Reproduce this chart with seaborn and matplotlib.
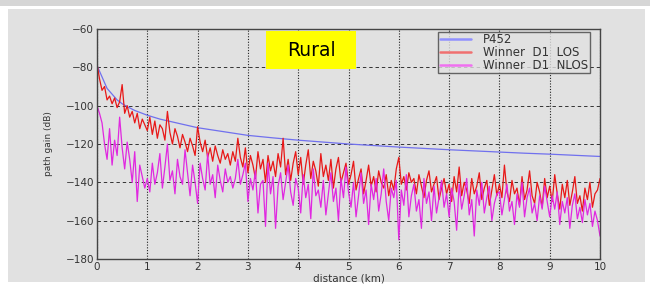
"""Rural path gain: P452 vs Winner D1 LOS / NLOS."""

import matplotlib
matplotlib.use("Agg")
import matplotlib.pyplot as plt
import pandas as pd
import seaborn as sns
from matplotlib.patches import Rectangle


# P452 curve
P452_KM = [0.0, 0.05, 0.1, 0.15, 0.2, 0.3, 0.4, 0.5, 0.6, 0.75, 1.0, 1.25, 1.5,
           2.0, 2.5, 3.0, 3.5, 4.0, 4.5, 5.0, 5.5, 6.0, 6.5, 7.0, 7.5, 8.0,
           8.5, 9.0, 9.5, 10.0]
P452_DB = [-79, -82, -85, -88, -91, -94, -97, -99, -100.5, -102.5, -105, -107,
           -108.5, -111.5, -113.5, -115.5, -116.8, -118, -119, -120, -120.8,
           -121.6, -122.3, -123, -123.6, -124.2, -124.8, -125.3, -125.9, -126.5]

# Winner D1 curves, one value every 0.05 km
WINNER_KM = [i * 0.05 for i in range(201)]
LOS_DB = [
    -78, -86, -92, -90, -97, -95, -99, -96, -101, -98, -89, -104, -100, -106, -103, -109, -104, -112, -107, -110,
    -113, -106, -115, -108, -117, -110, -112, -118, -103, -114, -120, -112, -116, -122, -115, -119, -124, -117, -121, -126,
    -111, -119, -124, -118, -127, -122, -129, -121, -126, -130, -123, -128, -125, -131, -124, -129, -117, -127, -132, -122,
    -135, -126, -131, -138, -124, -133, -128, -140, -126, -134, -129, -137, -125, -132, -117, -136, -128, -139, -130, -124,
    -136, -127, -141, -131, -123, -138, -129, -134, -142, -125, -137, -131, -139, -128, -143, -133, -127, -140, -135, -130,
    -141, -136, -129, -144, -138, -133, -146, -139, -131, -142, -137, -145, -134, -140, -143, -136, -147, -139, -144, -133,
    -127, -141, -137, -144, -135, -140, -138, -146, -136, -142, -148, -139, -134, -145, -141, -137, -149, -143, -138, -146,
    -141, -150, -137, -145, -132, -147, -140, -144, -151, -138, -146, -142, -135, -149, -143, -139, -152, -144, -136, -147,
    -141, -148, -131, -145, -150, -139, -146, -143, -152, -137, -149, -144, -134, -147, -151, -140, -145, -153, -138, -148,
    -142, -150, -136, -146, -154, -141, -148, -139, -152, -145, -137, -151, -147, -155, -143, -149, -140, -153, -146, -144,
    -138,
]
NLOS_DB = [
    -100, -104, -109, -120, -128, -112, -131, -118, -126, -106, -122, -133, -119, -128, -140, -124, -150, -131, -137, -143,
    -138, -145, -130, -141, -135, -125, -143, -132, -120, -139, -134, -146, -128, -137, -141, -123, -135, -147, -131, -140,
    -151, -130, -138, -144, -125, -141, -136, -148, -131, -139, -145, -133, -140, -137, -143, -138, -128, -141, -136, -130,
    -150, -138, -144, -134, -156, -141, -139, -163, -130, -146, -137, -164, -142, -135, -149, -140, -131, -145, -152, -138,
    -143, -156, -136, -148, -141, -159, -133, -147, -144, -153, -139, -157, -146, -135, -150, -143, -160, -138, -148, -132,
    -145, -153, -140, -158, -147, -135, -151, -144, -162, -141, -149, -138, -155, -146, -133, -150, -160, -143, -148, -139,
    -170, -144, -152, -136, -158, -147, -141, -155, -149, -164, -138, -151, -145, -160, -142, -156, -148, -139, -153, -146,
    -158, -143, -150, -165, -141, -154, -147, -138, -157, -149, -168, -144, -152, -140, -156, -148, -142, -160, -151, -146,
    -145, -157, -149, -141, -155, -150, -162, -146, -153, -140, -158, -148, -143, -156, -151, -160, -147, -154, -142, -150,
    -158, -147, -154, -145, -162, -150, -156, -148, -164, -152, -146, -159, -153, -161, -149, -157, -151, -163, -155, -160,
    -168,
]

SERIES = ["P452", "Winner D1 LOS", "Winner D1 NLOS"]
LEGEND_TEXT = ["P452", "Winner  D1  LOS", "Winner  D1  NLOS"]
COLORS = ["#7070ee", "#e81818", "#e028e0"]
BG = "#e1e1e1"


def build_frame() -> pd.DataFrame:
    parts = [
        pd.DataFrame({"km": P452_KM, "db": P452_DB, "model": SERIES[0]}),
        pd.DataFrame({"km": WINNER_KM, "db": LOS_DB, "model": SERIES[1]}),
        pd.DataFrame({"km": WINNER_KM, "db": NLOS_DB, "model": SERIES[2]}),
    ]
    return pd.concat(parts, ignore_index=True)


def main() -> None:
    data = build_frame()
    sns.set_style("white")
    plt.rcParams["font.family"] = ["DejaVu Sans"]

    fig = plt.figure(figsize=(6.5, 2.87), dpi=100, facecolor="white")
    # grey panel with thin white border, light strip on top
    fig.patches.append(Rectangle((8 / 650, 5 / 287), 637 / 650, 273 / 287,
                                 transform=fig.transFigure, facecolor=BG,
                                 edgecolor="none", zorder=-10))
    fig.patches.append(Rectangle((0, 281 / 287), 1, 6 / 287,
                                 transform=fig.transFigure, facecolor="#d6d6d6",
                                 edgecolor="none", zorder=-10))

    ax = fig.add_axes([97 / 650, 28 / 287, 503 / 650, 230 / 287])
    ax.set_facecolor(BG)

    for name, color in zip(SERIES, COLORS):
        sns.lineplot(data=data[data["model"] == name], x="km", y="db", ax=ax,
                     color=color, lw=0.9, estimator=None, label=name,
                     legend=False)

    ax.set_xlim(0, 10)
    ax.set_ylim(-180, -60)
    ax.set_xticks(range(0, 11))
    ax.set_yticks(range(-180, -59, 20))
    ax.xaxis.grid(True, linestyle=(0, (1, 1.5)), color="#222222", lw=0.8)
    ax.yaxis.grid(True, linestyle=(0, (3.5, 3)), color="#333333", lw=0.7)
    ax.set_axisbelow(True)
    ax.tick_params(direction="in", length=3, labelsize=7.5, colors="#333333",
                   pad=2)
    for spine in ax.spines.values():
        spine.set_color("#444444")
        spine.set_linewidth(1.0)

    ax.set_xlabel("distance (km)", fontsize=7.5, color="#333333", labelpad=1)
    ax.set_ylabel("path gain (dB)", fontsize=6.5, color="#333333", labelpad=9)

    handles = ax.lines[:3]
    leg = ax.legend(handles, LEGEND_TEXT, loc="upper right", fontsize=8.5,
                    frameon=True, fancybox=False, borderpad=0.1,
                    handlelength=2.7, handletextpad=1.0, labelspacing=0.0,
                    borderaxespad=0.25, bbox_to_anchor=(0.985, 1.0))
    leg.get_frame().set_facecolor(BG)
    leg.get_frame().set_edgecolor("#444444")
    leg.get_frame().set_linewidth(1.0)
    for line, color in zip(leg.get_lines(), ["#9090ff", "#f07070", "#f070f0"]):
        line.set_color(color)
        line.set_linewidth(1.8)
    for text in leg.get_texts():
        text.set_color("#333333")

    # yellow "Rural" tag
    ax.add_patch(Rectangle((0.336, 0.826), 0.179, 0.165,
                           transform=ax.transAxes, facecolor="#ffff00",
                           edgecolor="none", zorder=5))
    ax.text(0.4255, 0.905, "Rural", transform=ax.transAxes, ha="center",
            va="center", fontsize=13.5, color="black", zorder=6)

    fig.savefig("out.png", dpi=100, facecolor=fig.get_facecolor())
    plt.close(fig)


if __name__ == "__main__":
    main()
